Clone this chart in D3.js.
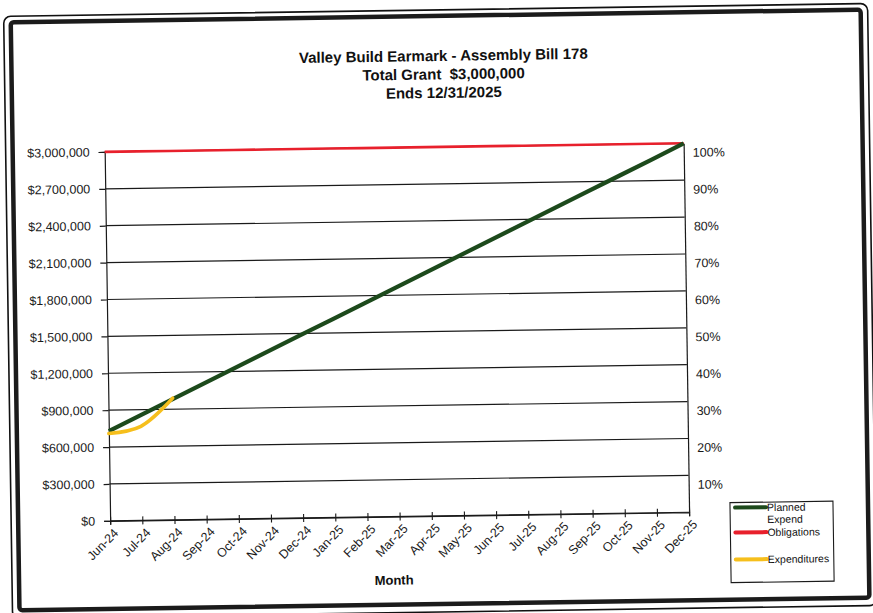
<!DOCTYPE html>
<html>
<head>
<meta charset="utf-8">
<script src="https://cdn.jsdelivr.net/npm/d3@7"></script>
<style>
  html, body { margin: 0; padding: 0; background: #fff; }
  svg { display: block; font-family: "Liberation Sans", Arial, sans-serif; }
</style>
</head>
<body>
<svg id="chart" width="873" height="613"></svg>
<script>
// Monthly schedule for the earmark
const months = ["Jun-24", "Jul-24", "Aug-24", "Sep-24", "Oct-24", "Nov-24", "Dec-24",
  "Jan-25", "Feb-25", "Mar-25", "Apr-25", "May-25", "Jun-25", "Jul-25", "Aug-25",
  "Sep-25", "Oct-25", "Nov-25", "Dec-25"];

// Planned cumulative expenditure
const plannedExpend = [730000, 856000, 982000, 1108000, 1234000, 1360000, 1486000,
  1612000, 1738000, 1864000, 1990000, 2116000, 2242000, 2368000, 2494000, 2620000,
  2746000, 2872000, 3000000];

// Obligated amount
const obligations = [3000000, 3000000, 3000000, 3000000, 3000000, 3000000, 3000000,
  3000000, 3000000, 3000000, 3000000, 3000000, 3000000, 3000000, 3000000, 3000000,
  3000000, 3000000, 3000000];

// Actual expenditures to date
const expenditureMonths = ["Jun-24", "Jul-24", "Aug-24"];
const expenditures = [710000, 765000, 990000];

// Axis ticks
const dollarTicks = [0, 300000, 600000, 900000, 1200000, 1500000, 1800000,
  2100000, 2400000, 2700000, 3000000];
const percentTicks = [0.1, 0.2, 0.3, 0.4, 0.5, 0.6, 0.7, 0.8, 0.9, 1.0];

const titleLines = ["Valley Build Earmark - Assembly Bill 178",
  "Total Grant\u00a0\u00a0$3,000,000", "Ends 12/31/2025"];

const seriesColors = { planned: "#1d4a1c", obligations: "#e8202c", expenditures: "#f6bf1c" };

const svg = d3.select("#chart");
// the scanned sheet sits slightly askew
const page = svg.append("g").attr("transform", "rotate(-0.85 436 306)");

// double frame
page.append("rect").attr("x", 8).attr("y", 10).attr("width", 864).attr("height", 602)
  .attr("rx", 7).attr("fill", "none").attr("stroke", "#111").attr("stroke-width", 1.6);
page.append("rect").attr("x", 15).attr("y", 16).attr("width", 850).attr("height", 588)
  .attr("rx", 3).attr("fill", "none").attr("stroke", "#1b1b1b").attr("stroke-width", 4.5);

const plot = { left: 107, right: 686, top: 147, bottom: 516 };

const x = d3.scalePoint().domain(months).range([plot.left, plot.right]);
const y = d3.scaleLinear().domain([0, 3000000]).range([plot.bottom, plot.top]);
const yPct = d3.scaleLinear().domain([0, 1]).range([plot.bottom, plot.top]);

// title, one text element per line
titleLines.forEach((t, i) => {
  page.append("text").attr("x", 447).attr("y", 61 + i * 18.5)
    .attr("text-anchor", "middle").attr("font-size", 15).attr("font-weight", "bold")
    .attr("fill", "#111").text(t);
});

// horizontal gridlines
page.append("g").selectAll("line").data(dollarTicks).join("line")
  .attr("x1", plot.left).attr("x2", plot.right)
  .attr("y1", d => y(d)).attr("y2", d => y(d))
  .attr("stroke", "#1a1a1a").attr("stroke-width", 1.2);

// left dollar axis
const leftAxis = page.append("g").attr("transform", `translate(${plot.left},0)`)
  .call(d3.axisLeft(y).tickValues(dollarTicks)
    .tickFormat(d => "$" + d3.format(",")(d)).tickSize(6).tickPadding(9));
leftAxis.select(".domain").attr("stroke", "#1a1a1a").attr("stroke-width", 1.2);
leftAxis.selectAll(".tick line").attr("stroke", "#1a1a1a").attr("stroke-width", 1.2);
leftAxis.selectAll(".tick text").attr("font-size", 12.5).attr("fill", "#1a1a1a")
  .attr("font-family", "'Liberation Sans', Arial, sans-serif");

// right percent axis
const rightAxis = page.append("g").attr("transform", `translate(${plot.right},0)`)
  .call(d3.axisRight(yPct).tickValues(percentTicks)
    .tickFormat(d3.format(".0%")).tickSize(0).tickPadding(9));
rightAxis.select(".domain").attr("stroke", "#1a1a1a").attr("stroke-width", 1.2);
rightAxis.selectAll(".tick text").attr("font-size", 12.5).attr("fill", "#1a1a1a")
  .attr("dy", "1.05em")
  .attr("font-family", "'Liberation Sans', Arial, sans-serif");

// bottom month axis
const bottomAxis = page.append("g").attr("transform", `translate(0,${plot.bottom})`)
  .call(d3.axisBottom(x).tickSize(4).tickPadding(6));
bottomAxis.select(".domain").attr("stroke", "#1a1a1a").attr("stroke-width", 1.2);
bottomAxis.selectAll(".tick line").attr("y1", -4).attr("y2", 4)
  .attr("stroke", "#1a1a1a").attr("stroke-width", 1.1);
bottomAxis.selectAll(".tick text")
  .attr("font-size", 12.5).attr("fill", "#1a1a1a")
  .attr("font-family", "'Liberation Sans', Arial, sans-serif")
  .attr("text-anchor", "end")
  .attr("transform", "translate(8,7) rotate(-45)")
  .attr("dy", "0.35em").attr("y", 0).attr("x", -4);

page.append("text").attr("x", 390).attr("y", 584).attr("text-anchor", "middle")
  .attr("font-size", 13).attr("font-weight", "bold").attr("fill", "#111").text("Month");

// series
const line = d3.line().x(d => x(d.m)).y(d => y(d.v));

page.append("path")
  .datum(months.map((m, i) => ({ m, v: obligations[i] })))
  .attr("d", line).attr("fill", "none")
  .attr("stroke", seriesColors.obligations).attr("stroke-width", 2.6);

page.append("path")
  .datum(months.map((m, i) => ({ m, v: plannedExpend[i] })))
  .attr("d", line).attr("fill", "none")
  .attr("stroke", seriesColors.planned).attr("stroke-width", 4.2);

page.append("path")
  .datum(expenditureMonths.map((m, i) => ({ m, v: expenditures[i] })))
  .attr("d", line.curve(d3.curveCatmullRom.alpha(0.5))).attr("fill", "none")
  .attr("stroke", seriesColors.expenditures).attr("stroke-width", 3.6)
  .attr("stroke-linecap", "round");

// legend
const legend = page.append("g").attr("transform", "translate(727,507)");
legend.append("rect").attr("width", 103).attr("height", 80)
  .attr("fill", "#fff").attr("stroke", "#1a1a1a").attr("stroke-width", 1.1);
const legendItems = [
  { key: "planned", lines: ["Planned", "Expend"], y: 5 },
  { key: "obligations", lines: ["Obligations"], y: 30 },
  { key: "expenditures", lines: ["Expenditures"], y: 57 }
];
legendItems.forEach(it => {
  legend.append("line").attr("x1", 5).attr("x2", 36).attr("y1", it.y).attr("y2", it.y)
    .attr("stroke", seriesColors[it.key]).attr("stroke-width", 4).attr("stroke-linecap", "round");
  const t = legend.append("text").attr("x", 37).attr("y", it.y + 4)
    .attr("font-size", 10.5).attr("fill", "#111");
  it.lines.forEach((s, i) => t.append("tspan").attr("x", 37).attr("dy", i === 0 ? 0 : 12).text(s));
});
</script>
</body>
</html>
